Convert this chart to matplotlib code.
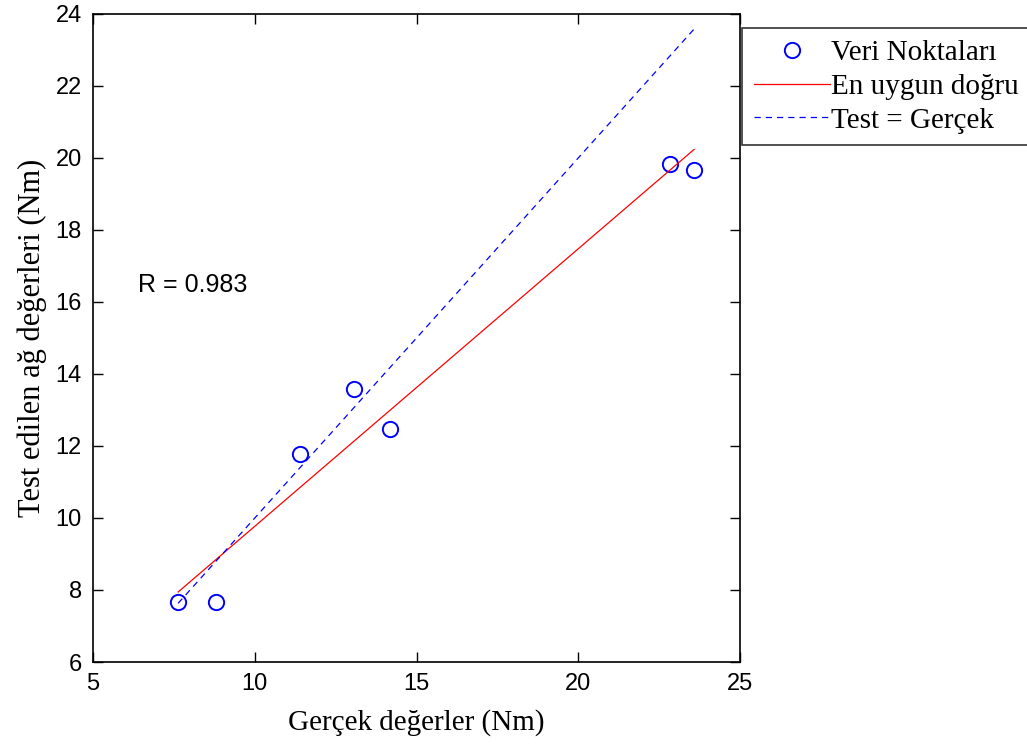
import numpy as np
import matplotlib.pyplot as plt

# measured torque (Nm) vs network output on the test set
gercek = [7.63, 8.80, 11.40, 13.07, 14.18, 22.84, 23.58]
test = [7.67, 7.67, 11.78, 13.58, 12.47, 19.83, 19.67]

x = np.array(gercek)
y = np.array(test)

# least squares fit and correlation
slope, intercept = np.polyfit(x, y, 1)
r = np.corrcoef(x, y)[0, 1]
xs = np.array([x.min(), x.max()])

fig = plt.figure(figsize=(10.27, 7.51), dpi=100)
ax = fig.add_axes([0.0906, 0.1185, 0.630, 0.863])

ax.plot(x, y, 'o', mfc='none', mec='blue', ms=11, mew=1.4, label='Veri Noktaları')
ax.plot(xs, slope * xs + intercept, '-', color='red', lw=0.9, label='En uygun doğru')
ax.plot(xs, xs, '--', color='blue', lw=0.9, dashes=(5, 4), label='Test = Gerçek')

ax.text(6.39, 16.47, f'R = {r:.3f}', fontsize=18, family='Liberation Sans', va='center', ha='left')

ax.set_xlim(5, 25)
ax.set_ylim(6, 24)
ax.set_xticks(np.arange(5, 26, 5))
ax.set_yticks(np.arange(6, 25, 2))
ax.tick_params(direction='in', length=7, width=1, top=True, right=True, labelsize=17, pad=8)
for lbl in ax.get_xticklabels() + ax.get_yticklabels():
    lbl.set_family('Liberation Sans')
for sp in ax.spines.values():
    sp.set_linewidth(1.2)

ax.set_xlabel('Gerçek değerler (Nm)', fontsize=21, family='Liberation Serif', labelpad=10)
ax.set_ylabel('Test edilen ağ değerleri (Nm)', fontsize=22, family='Liberation Serif', labelpad=6)

leg = fig.legend(loc='upper left', bbox_to_anchor=(0.7225, 0.9627), frameon=True, fancybox=False,
                 edgecolor='black', prop={'family': 'Liberation Serif', 'size': 21},
                 handlelength=2.6, handletextpad=0.05, borderpad=0.4, labelspacing=0.25,
                 borderaxespad=0)
leg.get_frame().set_linewidth(1.2)

fig.savefig('out.png', dpi=100)
